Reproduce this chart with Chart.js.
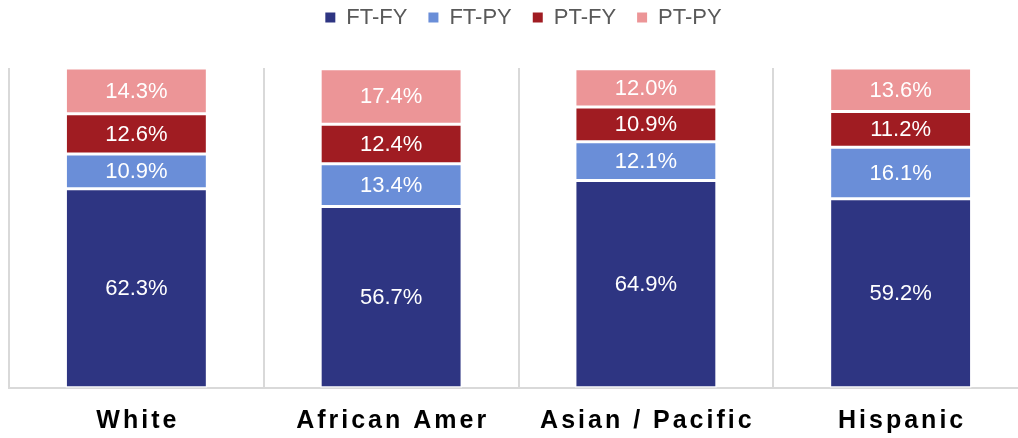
<!DOCTYPE html>
<html>
<head>
<meta charset="utf-8">
<script src="https://cdn.jsdelivr.net/npm/chart.js@4/dist/chart.umd.min.js"></script>
<style>
  html, body { margin: 0; padding: 0; background: #fff; overflow: hidden; }
  #wrap { width: 1040px; height: 438px; position: relative; }
</style>
</head>
<body>
<div id="wrap"><canvas id="c"></canvas></div>
<script>
const categories = ['White', 'African Amer', 'Asian / Pacific', 'Hispanic'];
const seriesNames = ['FT-FY', 'FT-PY', 'PT-FY', 'PT-PY'];
const ftfy = [62.3, 56.7, 64.9, 59.2];
const ftpy = [10.9, 13.4, 12.1, 16.1];
const ptfy = [12.6, 12.4, 10.9, 11.2];
const ptpy = [14.3, 17.4, 12.0, 13.6];
const colors = ['#2E3582', '#6A8ED8', '#A01C22', '#EC9597'];

const FONT = '"Liberation Sans", Arial, sans-serif';

const legendFitPlugin = {
  id: 'legendFit',
  beforeInit(chart) {
    const lg = chart.legend;
    if (!lg) return;
    const orig = lg.fit;
    lg.fit = function () {
      orig.call(this);
      this.height = 82.5;
    };
  },
  afterLayout(chart) {
    const lg = chart.legend;
    if (!lg) return;
    lg.left += 5;
    lg.right += 5;
  }
};

const catLabelPlugin = {
  id: 'catLabels',
  afterDraw(chart) {
    const ctx = chart.ctx;
    const xs = chart.scales.x;
    ctx.save();
    ctx.letterSpacing = '3px';
    ctx.font = 'bold 25px ' + FONT;
    ctx.fillStyle = '#000000';
    ctx.textAlign = 'center';
    ctx.textBaseline = 'middle';
    chart.data.labels.forEach((lab, i) => {
      ctx.fillText(lab, xs.getPixelForTick(i) + 1.5, chart.chartArea.bottom + 33);
    });
    ctx.restore();
  }
};

const labelPlugin = {
  id: 'valueLabels',
  afterDatasetsDraw(chart) {
    const ctx = chart.ctx;
    ctx.save();
    ctx.font = '22px ' + FONT;
    ctx.fillStyle = '#ffffff';
    ctx.textAlign = 'center';
    ctx.textBaseline = 'middle';
    chart.data.datasets.forEach((ds, di) => {
      const meta = chart.getDatasetMeta(di);
      meta.data.forEach((bar, i) => {
        const v = ds.data[i];
        const yc = (bar.y + bar.base) / 2;
        ctx.fillText(v.toFixed(1) + '%', bar.x, yc + 1);
      });
    });
    ctx.restore();
  }
};

const mk = (label, data, color) => ({
  label, data, backgroundColor: color,
  borderColor: '#ffffff', borderWidth: 1.5, borderSkipped: false
});

new Chart(document.getElementById('c'), {
  type: 'bar',
  data: {
    labels: categories,
    datasets: [
      mk(seriesNames[0], ftfy, colors[0]),
      mk(seriesNames[1], ftpy, colors[1]),
      mk(seriesNames[2], ptfy, colors[2]),
      mk(seriesNames[3], ptpy, colors[3])
    ]
  },
  options: {
    responsive: true,
    maintainAspectRatio: false,
    animation: false,
    layout: { padding: { left: 9, right: 12, top: -14.5, bottom: -14.5 } },
    datasets: { bar: { categoryPercentage: 1, barPercentage: 0.557 } },
    scales: {
      x: {
        stacked: true,
        grid: { offset: true, color: '#d9d9d9', lineWidth: 2, drawTicks: false },
        border: { color: '#d9d9d9', width: 2 },
        ticks: {
          color: 'rgba(0,0,0,0)', padding: 18,
          font: { family: FONT, size: 24, weight: 'bold' }
        }
      },
      y: {
        stacked: true, display: false, min: 0, max: 100.1
      }
    },
    plugins: {
      legend: {
        position: 'top',
        labels: {
          color: '#595959',
          font: { family: FONT, size: 22 },
          boxWidth: 10, boxHeight: 10,
          padding: 21,
          generateLabels(chart) {
            return chart.data.datasets.map((ds, i) => ({
              text: ds.label, fillStyle: ds.backgroundColor, strokeStyle: ds.backgroundColor,
              lineWidth: 0, datasetIndex: i, fontColor: '#595959', hidden: false
            }));
          }
        }
      },
      tooltip: { enabled: false }
    }
  },
  plugins: [legendFitPlugin, labelPlugin, catLabelPlugin]
});
</script>
</body>
</html>
